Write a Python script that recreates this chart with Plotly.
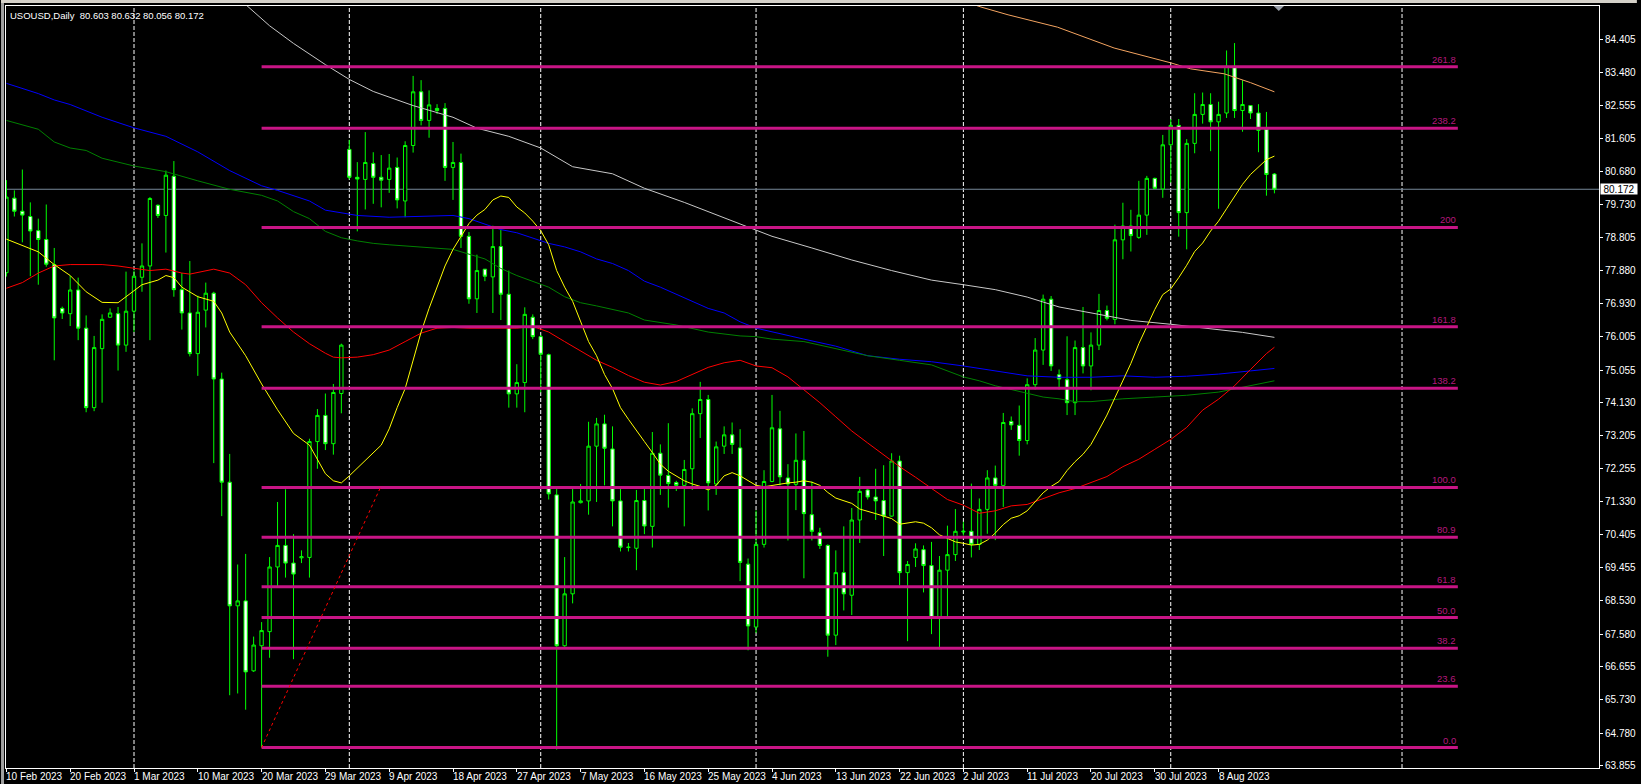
import plotly.graph_objects as go

# ---------------- data ----------------
opens = [77.81,79.92,79.55,79.40,79.00,78.75,78.04,76.80,76.65,77.32,
         76.24,73.99,75.66,76.55,76.65,75.76,76.72,77.68,78.00,79.72,
         79.43,80.54,77.33,76.67,75.52,76.75,77.23,74.80,71.88,68.38,
         68.52,66.54,67.25,67.65,69.48,70.09,69.59,69.74,69.75,73.03,
         73.77,72.97,74.39,81.30,80.51,80.45,80.90,80.51,80.45,80.79,
         79.84,81.41,82.93,82.12,82.46,82.46,80.79,80.93,78.84,77.07,
         77.91,77.69,78.55,77.20,74.38,74.70,76.55,76.00,75.49,71.52,
         67.25,68.72,71.30,71.35,72.90,73.53,72.82,71.35,70.03,70.01,
         71.36,70.63,72.70,72.07,71.87,71.79,72.26,73.82,74.22,71.83,
         72.90,73.22,72.85,69.56,67.78,70.12,71.90,73.39,72.00,71.82,
         72.50,70.96,70.45,70.09,67.55,69.32,68.68,70.81,71.66,71.46,
         71.36,70.92,72.48,69.32,69.75,69.97,69.52,68.02,69.39,69.83,
         70.47,70.49,70.12,71.11,72.00,71.79,73.60,73.49,73.06,74.64,
         75.62,77.06,74.92,74.78,74.13,75.69,75.17,75.76,76.74,76.49,
         78.74,79.13,78.81,79.44,80.48,80.18,81.43,81.98,79.51,81.47,
         82.29,82.57,82.08,82.33,83.65,82.40,82.54,82.33,81.87,80.603]
highs = [80.43,80.14,80.73,79.80,79.34,79.74,78.51,76.85,77.73,77.67,
         76.60,76.02,76.63,76.80,76.84,77.84,77.87,78.64,79.95,79.74,
         80.70,80.97,77.80,78.14,77.16,77.53,77.27,74.98,72.68,69.55,
         69.85,67.51,67.92,69.76,71.32,71.68,70.41,69.95,73.11,73.95,
         74.39,74.66,75.80,81.57,80.94,81.79,81.22,81.14,81.17,81.07,
         81.53,83.38,83.26,82.97,82.58,82.61,81.51,81.18,78.96,78.32,
         77.91,79.14,79.02,77.87,75.22,76.83,76.63,76.05,75.52,71.72,
         69.76,71.75,71.83,73.59,73.70,73.79,73.46,71.76,70.16,71.66,
         71.72,73.30,72.95,73.55,71.92,72.51,73.97,74.72,74.35,73.03,
         73.46,73.57,73.38,69.72,71.08,72.22,74.35,73.90,72.39,73.26,
         73.33,71.90,70.59,70.12,69.95,70.63,71.15,72.03,71.72,72.26,
         72.36,72.70,72.63,69.65,70.15,70.09,70.19,69.79,70.65,71.12,
         70.76,71.84,71.42,72.22,72.35,73.84,73.74,74.05,74.82,75.96,
         77.19,77.15,75.07,76.01,75.89,76.84,76.12,77.21,76.88,79.17,
         79.79,79.59,80.41,80.55,80.50,81.71,82.16,82.16,81.59,82.89,
         82.91,82.89,82.65,84.10,84.31,83.26,82.54,82.58,82.36,80.632]
lows = [77.70,79.40,78.67,77.71,77.47,77.98,75.33,76.50,76.30,75.90,
        73.86,73.89,74.13,76.53,75.04,75.57,76.13,77.27,75.90,79.36,
        78.38,77.13,76.20,75.44,74.89,76.26,72.42,70.92,65.85,65.90,
        65.44,66.51,64.37,66.91,68.92,69.18,66.87,69.59,69.18,72.26,
        72.79,72.66,73.83,80.45,78.98,79.60,79.76,79.66,80.07,79.63,
        79.38,81.21,81.98,81.63,82.30,80.41,79.87,78.51,76.93,76.67,
        77.57,76.67,76.47,73.99,73.99,73.86,75.93,74.42,71.39,64.31,
        67.22,68.45,71.28,70.96,71.32,71.79,70.63,69.92,69.92,69.39,
        70.41,70.03,71.52,71.16,71.63,70.63,71.66,73.13,71.08,71.52,
        72.68,72.68,69.08,67.12,67.61,70.03,71.88,71.79,70.23,71.09,
        69.16,70.23,69.99,66.94,67.27,68.25,68.12,70.16,71.39,70.81,
        69.79,70.90,68.96,67.38,69.48,68.76,67.58,67.15,68.01,69.65,
        70.37,69.75,69.96,70.42,70.24,71.18,73.36,72.63,72.95,74.50,
        75.20,75.03,74.50,73.78,73.78,74.96,74.48,75.62,76.46,76.35,
        78.19,78.41,78.77,78.88,80.18,79.93,80.36,78.83,78.47,81.19,
        82.03,81.25,79.62,82.19,82.19,81.80,82.16,81.22,79.99,80.056]
closes = [79.95,79.55,79.44,78.99,78.75,78.05,76.53,76.67,77.32,76.24,
          73.99,75.69,76.49,76.67,75.76,76.72,77.71,78.00,79.91,79.43,
          80.57,77.33,76.67,75.52,76.69,77.23,74.80,71.88,68.38,68.52,
          66.51,67.27,67.68,69.48,70.09,69.59,69.28,69.77,73.03,73.77,
          72.97,74.42,75.76,80.51,80.46,80.93,80.51,80.43,80.77,79.87,
          81.41,82.93,82.12,82.56,82.40,80.79,80.93,78.84,77.07,77.87,
          77.71,78.55,77.20,74.38,74.70,76.63,76.00,75.50,71.55,67.25,
          68.72,71.32,71.35,72.90,73.53,72.84,71.35,70.04,70.04,71.36,
          70.64,72.70,72.08,71.84,71.79,72.24,73.82,74.22,71.86,72.88,
          73.22,72.95,69.61,67.81,70.12,71.90,73.42,72.03,71.83,72.50,
          70.99,70.49,70.09,67.55,69.32,68.72,70.81,71.62,71.46,71.35,
          70.92,72.48,69.32,69.55,69.99,69.52,68.02,69.39,69.83,70.49,
          70.49,70.12,71.11,72.00,71.79,73.57,73.50,73.06,74.64,75.62,
          77.06,75.17,74.80,74.13,75.69,75.17,75.76,76.74,76.52,78.74,
          79.13,78.86,79.44,80.48,80.20,81.43,81.98,79.51,81.47,82.29,
          82.57,82.08,82.29,83.65,82.40,82.57,82.33,81.84,80.59,80.172]

# moving averages (sampled along the curves)
yellow_idx = [0,4,6,8,10,12,14,15,17,19,20,21,22,24,26,27,28,30,32,34,
              36,38,40,41,42,43,45,47,48,49,50,51,52,53,54,55,56,57,58,59,
              60,61,62,63,64,65,66,67,68,69,70,71,72,73,74,75,76,77,78,79,
              80,81,82,83,84,85,86,87,88,89,90,91,92,93,94,95,97,98,99,100,
              101,102,103,104,106,107,109,110,111,112,113,114,115,116,117,118,119,120,
              121,122,123,124,125,126,127,128,129,130,131,132,133,134,135,136,137,138,139,140,
              141,142,143,144,145,146,147,148,149,150,151,152,153,154,155,156,157,158,159]
yellow_val = [78.76,78.40,78.04,77.73,77.27,76.97,76.96,77.13,77.47,77.60,77.73,77.67,77.40,77.13,77.00,76.67,76.13,75.46,74.66,73.93,
              73.26,72.93,72.12,71.92,71.86,72.06,72.50,72.93,73.39,73.99,74.53,75.33,76.13,76.80,77.40,78.00,78.47,78.84,79.20,79.44,
              79.60,79.87,79.98,79.94,79.67,79.50,79.27,79.00,78.60,77.87,77.40,77.00,76.40,75.86,75.46,74.93,74.53,73.99,73.66,73.33,
              73.03,72.72,72.39,72.19,72.06,71.92,71.83,71.76,71.66,71.79,72.06,72.15,72.06,71.92,71.79,71.75,71.83,71.86,71.88,71.92,
              71.88,71.79,71.59,71.43,71.28,71.12,70.99,70.92,70.85,70.69,70.72,70.76,70.72,70.59,70.39,70.28,70.19,70.15,
              70.10,70.12,70.24,70.44,70.68,70.86,70.93,71.07,71.32,71.58,71.76,71.90,72.21,72.46,72.67,72.95,73.36,73.78,74.27,74.75,
              75.24,75.80,76.28,76.77,77.19,77.35,77.67,78.02,78.41,78.65,78.99,79.27,79.62,79.97,80.31,80.59,80.80,81.01,81.11]

red_idx = [0,2,4,6,8,12,14,16,18,20,22,23,25,26,28,30,32,34,36,38,
           40,41,42,44,46,48,50,52,54,56,58,60,62,64,66,68,70,72,74,76,
           78,80,81,82,84,86,88,90,92,94,96,98,100,102,104,106,108,110,112,114,
           116,118,120,122,124,126,128,130,132,134,136,138,140,142,144,146,148,150,152,154,
           156,158,159]
red_val = [77.37,77.53,77.80,78.00,78.04,78.04,78.00,77.93,77.87,77.91,77.80,77.77,77.87,77.91,77.80,77.47,76.96,76.53,76.13,75.80,
           75.53,75.42,75.40,75.42,75.49,75.62,75.86,76.10,76.24,76.26,76.24,76.24,76.26,76.24,76.29,76.13,75.86,75.60,75.33,75.13,
           74.90,74.71,74.66,74.63,74.73,74.93,75.13,75.26,75.33,75.17,75.12,74.86,74.50,74.13,73.73,73.33,72.99,72.66,72.32,72.02,
           71.70,71.39,71.23,71.00,71.07,71.21,71.25,71.42,71.58,71.70,71.86,72.04,72.32,72.53,72.81,73.09,73.43,73.92,74.23,74.61,
           75.07,75.52,75.70]

green_idx = [0,4,6,8,10,12,16,20,24,28,32,34,36,38,40,42,44,46,48,52,
             56,60,62,64,66,68,70,72,74,76,78,80,84,88,92,94,96,100,104,108,
             112,116,120,122,124,126,128,130,132,134,136,138,140,144,148,152,156,159]
green_val = [82.12,81.87,81.51,81.34,81.27,81.05,80.83,80.67,80.41,80.17,80.00,79.84,79.54,79.34,78.98,78.80,78.71,78.64,78.60,78.54,
             78.47,78.20,77.93,77.73,77.57,77.40,77.13,76.96,76.87,76.77,76.67,76.47,76.33,76.13,76.02,76.00,75.93,75.86,75.66,75.46,
             75.33,75.20,74.86,74.75,74.61,74.50,74.41,74.29,74.24,74.16,74.16,74.20,74.24,74.29,74.34,74.43,74.61,74.75]

blue_idx = [0,4,6,8,12,16,20,24,28,32,34,36,38,40,42,44,48,52,56,58,
            60,62,64,66,68,70,72,74,76,78,80,82,84,86,88,90,92,94,96,100,
            104,108,112,116,120,124,128,132,136,140,144,148,152,156,159]
blue_val = [83.17,82.88,82.70,82.57,82.21,81.91,81.67,81.23,80.70,80.27,80.14,80.00,79.84,79.58,79.50,79.43,79.38,79.40,79.43,79.34,
            79.18,79.03,78.94,78.80,78.64,78.54,78.40,78.20,78.07,77.87,77.57,77.40,77.20,77.00,76.80,76.67,76.42,76.24,76.13,75.93,
            75.73,75.46,75.36,75.29,75.17,75.03,74.89,74.85,74.85,74.89,74.85,74.88,74.94,75.03,75.10]

white_idx = [28,30,33,36,40,43,46,51,56,59,63,67,71,76,80,85,91,94,96,101,
             106,111,116,120,124,128,132,137,141,146,150,155,159]
white_val = [85.80,85.40,84.80,84.30,83.70,83.28,82.94,82.54,82.21,81.90,81.67,81.34,80.81,80.61,80.20,79.80,79.27,79.00,78.84,78.51,
             78.17,77.87,77.60,77.47,77.33,77.12,76.84,76.63,76.46,76.35,76.24,76.12,75.98]

orange_idx = [120.0,122.2,125.6,131.8,138.9,146.0,148.5,152.7,156.0,159.0]
orange_val = [85.50,85.33,85.11,84.76,84.17,83.75,83.58,83.44,83.19,82.93]

# Fibonacci retracement
fib_levels = [0, 23.6, 38.2, 50, 61.8, 80.9, 100, 138.2, 161.8, 200, 238.2, 261.8]
fib_labels = ["0.0", "23.6", "38.2", "50.0", "61.8", "80.9", "100.0", "138.2", "161.8", "200", "238.2", "261.8"]
fib_low, fib_high = 64.37, 71.73
fib_start_idx, fib_end_idx, fib_anchor2_idx = 32, 182, 46.9

# axes
y_ticks = [84.405, 83.480, 82.555, 81.605, 80.680, 79.730, 78.805, 77.880, 76.930, 76.005, 75.055,
           74.130, 73.205, 72.255, 71.330, 70.405, 69.455, 68.530, 67.580, 66.655, 65.730, 64.780, 63.855]
date_labels = ["10 Feb 2023", "20 Feb 2023", "1 Mar 2023", "10 Mar 2023", "20 Mar 2023", "29 Mar 2023",
               "9 Apr 2023", "18 Apr 2023", "27 Apr 2023", "7 May 2023", "16 May 2023", "25 May 2023",
               "4 Jun 2023", "13 Jun 2023", "22 Jun 2023", "2 Jul 2023", "11 Jul 2023", "20 Jul 2023",
               "30 Jul 2023", "8 Aug 2023"]
date_label_idx = [0, 8, 16, 24, 32, 40, 48, 56, 64, 72, 80, 88, 96, 104, 112, 120, 128, 136, 144, 152]
month_sep_idx = [16, 43, 67, 94, 120, 146, 175]
last_price = 80.172
title_text = "USOUSD,Daily\u00a0\u00a080.603 80.632 80.056 80.172"

# ---------------- figure ----------------
W, H = 1641, 784
ML, MR, MT, MB = 5, 38, 6, 16
PH = H - MT - MB
FONT = "Liberation Sans"

idx = list(range(len(opens)))
fig = go.Figure()

fig.add_trace(go.Candlestick(
    x=idx, open=opens, high=highs, low=lows, close=closes,
    increasing=dict(line=dict(color="#00ff00", width=1), fillcolor="#000000"),
    decreasing=dict(line=dict(color="#00ff00", width=1), fillcolor="#ffffff"),
    whiskerwidth=0, showlegend=False, hoverinfo="skip"))

for xs, ys, col in [(white_idx, white_val, "#c8c8c8"), (blue_idx, blue_val, "#0000ff"),
                    (green_idx, green_val, "#008000"), (red_idx, red_val, "#ff0000"),
                    (yellow_idx, yellow_val, "#ffff00"), (orange_idx, orange_val, "#f4a460")]:
    fig.add_trace(go.Scatter(x=xs, y=ys, mode="lines", line=dict(color=col, width=1),
                             showlegend=False, hoverinfo="skip"))

shapes = []
# month separators
for m in month_sep_idx:
    shapes.append(dict(type="line", xref="x", yref="paper", x0=m, x1=m, y0=0, y1=1,
                       line=dict(color="#ffffff", width=1, dash="4px,2px"), layer="below"))
# bid line
shapes.append(dict(type="line", xref="paper", yref="y", x0=0, x1=1, y0=last_price, y1=last_price,
                   line=dict(color="#778899", width=1), layer="below"))
# fib levels
annotations = []
for lv, lab in zip(fib_levels, fib_labels):
    p = fib_low + (fib_high - fib_low) * lv / 100.0
    shapes.append(dict(type="line", xref="x", yref="y", x0=fib_start_idx, x1=fib_end_idx, y0=p, y1=p,
                       line=dict(color="#c71585", width=3), layer="above"))
    annotations.append(dict(x=fib_end_idx, y=p, xref="x", yref="y", text=lab, showarrow=False,
                            xanchor="right", yanchor="bottom", yshift=0,
                            font=dict(family=FONT, size=9.5, color="#b5187c")))
# fib trend line
shapes.append(dict(type="line", xref="x", yref="y", x0=fib_start_idx, x1=fib_anchor2_idx,
                   y0=fib_low, y1=fib_high, line=dict(color="#ff0000", width=1, dash="dot"), layer="above"))
# chart-shift marker
shapes.append(dict(type="path", xref="x", yref="paper",
                   path="M 158.9 1 L 160.2 1 L 159.55 %.5f Z" % (1 - 5.0 / PH),
                   fillcolor="#9aa0aa", line=dict(width=0), layer="above"))
# window borders
shapes.append(dict(type="rect", xref="paper", yref="paper", x0=-ML / 1598.0, x1=-2.0 / 1598.0,
                   y0=-MB / PH, y1=1 + MT / PH, fillcolor="#a0a0a0", line=dict(width=0)))
shapes.append(dict(type="rect", xref="paper", yref="paper", x0=-ML / 1598.0, x1=1 + MR / 1598.0,
                   y0=1 + 3.0 / PH, y1=1 + MT / PH, fillcolor="#d4d0c8", line=dict(width=0)))

# date labels
for i, lab in zip(date_label_idx, date_labels):
    annotations.append(dict(x=i, y=0, xref="x", yref="paper", text=lab, showarrow=False,
                            xanchor="left", yanchor="top", xshift=-2, yshift=-1,
                            font=dict(family=FONT, size=10, color="#ffffff")))
# title
annotations.append(dict(x=0, y=1, xref="paper", yref="paper", text=title_text, showarrow=False,
                        xanchor="left", yanchor="top", xshift=2, yshift=-2,
                        font=dict(family=FONT, size=9.5, color="#ffffff")))
# current price tag
annotations.append(dict(x=1, y=last_price, xref="paper", yref="y", text="%.3f" % last_price,
                        showarrow=False, xanchor="left", yanchor="middle", xshift=1,
                        bgcolor="#ffffff", borderpad=0, width=36, height=10,
                        font=dict(family=FONT, size=10, color="#000000")))

fig.update_layout(
    width=W, height=H, autosize=False,
    margin=dict(l=ML, r=MR, t=MT, b=MB, pad=0),
    paper_bgcolor="#000000", plot_bgcolor="#000000",
    shapes=shapes, annotations=annotations, showlegend=False,
    boxgap=0.4,
    xaxis=dict(range=[-0.05, 199.7], showgrid=False, zeroline=False, rangeslider=dict(visible=False),
               tickvals=date_label_idx, showticklabels=False, ticks="outside", ticklen=3,
               tickcolor="#ffffff", showline=True, mirror=True, linecolor="#ffffff", linewidth=1),
    yaxis=dict(range=[63.790, 85.359], side="right", showgrid=False, zeroline=False,
               tickvals=y_ticks, ticktext=["%.3f" % v for v in y_ticks],
               ticks="outside", ticklen=3, tickcolor="#ffffff",
               tickfont=dict(family=FONT, size=10, color="#ffffff"),
               showline=True, mirror=True, linecolor="#ffffff", linewidth=1),
)

fig.write_html("out.html", config={"displayModeBar": False},
               post_script="document.body.style.margin='0';document.body.style.overflow='hidden';")
